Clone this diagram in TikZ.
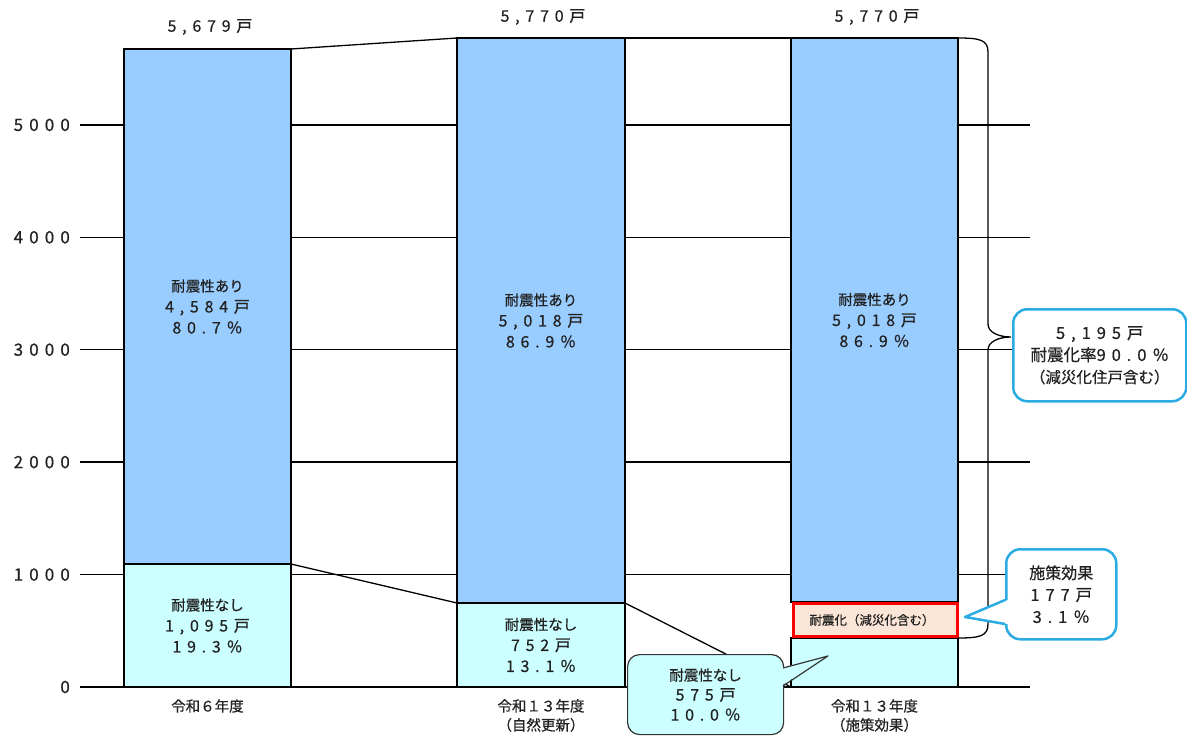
\documentclass[tikz,border=0pt]{standalone}
\usepackage{fontspec}
\setmainfont{Noto Sans CJK JP}[FakeBold=0.6]
\newfontfamily\numfont{Noto Sans CJK JP}[FakeBold=0.6, LetterSpace=36]
\definecolor{upblue}{HTML}{99CCFF}
\definecolor{lowcyan}{HTML}{CCFFFF}
\definecolor{peach}{HTML}{FBE5D6}
\definecolor{callblue}{HTML}{2AACE2}
\definecolor{darkline}{HTML}{333333}
\definecolor{txt}{HTML}{222222}
\newcommand{\nm}[2][16]{{\numfont\fontsize{#1}{21}\selectfont #2}}
\newcommand{\kj}[2][14.5]{{\fontsize{#1}{21}\selectfont #2}}
\begin{document}
\begin{tikzpicture}[x=1pt,y=-1pt,
  every node/.style={text=txt},
  bar/.style={draw=black, line width=1.3pt, outer sep=0pt, inner sep=0pt, anchor=north west, align=center, font=\fontsize{14}{21}\selectfont},
  up/.style={bar, fill=upblue},
  low/.style={bar, fill=lowcyan},
  redbox/.style={bar, draw=red, line width=3pt, fill=peach, font=\fontsize{12.5}{15}\selectfont},
  gridline/.style={line width=1.3pt, black},
  conn/.style={line width=1.3pt, black},
  ticklbl/.style={anchor=east, inner sep=0pt},
  toplbl/.style={inner sep=0pt},
  botlbl/.style={inner sep=0pt, align=center, font=\fontsize{14.5}{19}\selectfont},
  callb/.style={draw=callblue, line width=2.5pt, fill=white, rounded corners=14pt, anchor=north west, inner sep=0pt, align=center, font=\fontsize{16}{22}\selectfont},
  callc/.style={draw=darkline, line width=1.2pt, fill=lowcyan, rounded corners=12pt, anchor=north west, inner sep=0pt, align=center, font=\fontsize{14}{20}\selectfont},
]
\useasboundingbox (0,0) rectangle (1187,736);
% grid and axis labels
\foreach \v/\yy in {0/687, 1000/574.6, 2000/462.1, 3000/349.7, 4000/237.3, 5000/124.9}{
  \draw[gridline] (80,\yy) -- (1030,\yy);
  \node[ticklbl] (tick\v) at (70,\yy) {\nm[17]{\v}};
}
% bars
\node[up, minimum width=167pt, minimum height=515pt] (b1u) at (124,49) {\kj{耐震性あり}\\\nm{4,584戸}\\\nm{80.7％}};
\node[low, minimum width=167pt, minimum height=123pt] (b1l) at (124,564) {\kj{耐震性なし}\\\nm{1,095戸}\\\nm{19.3％}};
\node[up, minimum width=168pt, minimum height=565pt] (b2u) at (457,38) {\kj{耐震性あり}\\\nm{5,018戸}\\\nm{86.9％}};
\node[low, minimum width=168pt, minimum height=84pt] (b2l) at (457,603) {\kj{耐震性なし}\\\nm{752戸}\\\nm{13.1％}};
\node[up, minimum width=167pt, minimum height=564pt] (b3u) at (791,38) {\kj{耐震性あり}\\\nm{5,018戸}\\\nm{86.9％}};
\node[low, minimum width=167pt, minimum height=49pt] (b3l) at (791,638) {};
\node[redbox, minimum width=164pt, minimum height=33pt] (b3r) at (793,603.5) {耐震化（減災化含む）\hspace*{6pt}};
% totals
\node[toplbl] (t1) at (210,27) {\nm{5,679戸}};
\node[toplbl] (t2) at (543,17) {\nm{5,770戸}};
\node[toplbl] (t3) at (877,17) {\nm{5,770戸}};
% bottom labels
\node[botlbl] (x1) at (207.5,706) {令和６年度};
\node[botlbl] (x2) at (541,715.5) {令和１３年度\\（自然更新）};
\node[botlbl] (x3) at (874.5,715.5) {令和１３年度\\（施策効果）};
% connectors
\draw[conn] (b1u.north east) -- (b2u.north west);
\draw[conn] (b2u.north east) -- (b3u.north west);
\draw[conn] (b1l.north east) -- (b2l.north west);
\draw[conn] (b2l.north east) -- (b3l.south west);
% callout 1 with brace
\node[callb, minimum width=173pt, minimum height=92pt] (c1) at (1012,308) {\nm[16.5]{5,195戸}\\\kj[16.5]{耐震化率}\nm[16.5]{90.0％}\\\kj[15.5]{（減災化住戸含む）}};
\coordinate (tip1) at (1011,337);
\draw[conn] (b3u.north east) .. controls (980,38) and (988,40) .. (988,52) -- (988,324) .. controls (988,333) and (1000,337) .. (tip1) .. controls (1000,337) and (988,341) .. (988,350) -- (988,624) .. controls (988,636) and (980,638) .. (b3l.north east);
% callout 2
\node[callb, minimum width=110pt, minimum height=90pt] (c2) at (1005,548) {\kj[16]{施策効果}\\\nm[16.5]{177戸}\\\nm[16.5]{3.1％}};
\coordinate (p2a) at (1005,600);
\coordinate (p2b) at (1005,624);
\coordinate (tip2) at (965,617);
\fill[white] ([xshift=3pt]p2a) -- (tip2) -- ([xshift=3pt]p2b) -- cycle;
\draw[callblue, line width=2.5pt, line join=round] (p2a) -- (tip2) -- (p2b);
% callout 3
\node[callc, minimum width=156pt, minimum height=80pt] (c3) at (627,654) {\kj{耐震性なし}\\\nm{575戸}\\\nm{10.0％}};
\coordinate (p3a) at (783,668);
\coordinate (p3b) at (783,686);
\coordinate (tip3) at (828,656);
\fill[lowcyan] ([xshift=-2pt]p3a) -- (tip3) -- ([xshift=-2pt]p3b) -- cycle;
\draw[darkline, line width=1.2pt, line join=round] (p3a) -- (tip3) -- (p3b);
\end{tikzpicture}
\end{document}
